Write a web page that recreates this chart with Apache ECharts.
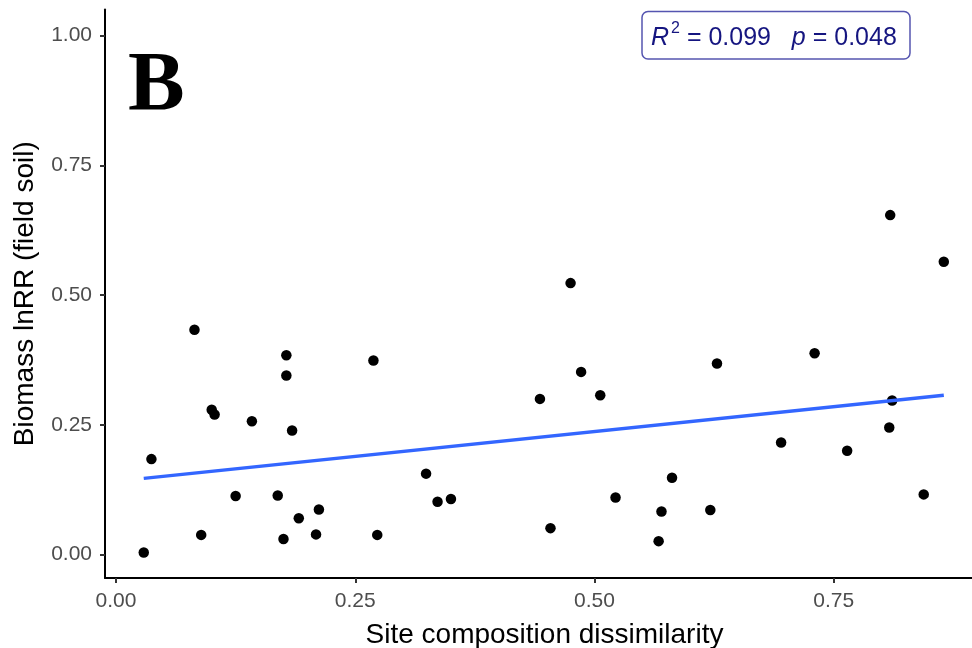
<!DOCTYPE html>
<html>
<head>
<meta charset="utf-8">
<title>Biomass lnRR vs site composition dissimilarity</title>
<script src="https://cdn.jsdelivr.net/npm/echarts@6/dist/echarts.min.js"></script>
<style>
  html, body { margin: 0; padding: 0; background: #ffffff; }
  #chart { width: 972px; height: 648px; }
</style>
</head>
<body>
<div id="chart"></div>
<script>
// Site composition dissimilarity (x) and biomass lnRR in field soil (y)
const dissimilarity = [
  0.029, 0.037, 0.082, 0.089, 0.100, 0.103, 0.125, 0.142, 0.169, 0.178,
  0.178, 0.184, 0.175, 0.191, 0.212, 0.209, 0.269, 0.273, 0.324, 0.336,
  0.350, 0.443, 0.454, 0.475, 0.486, 0.506, 0.522, 0.567, 0.570, 0.581,
  0.621, 0.628, 0.695, 0.730, 0.764, 0.808, 0.811, 0.809, 0.844, 0.865
];
const biomassLnRR = [
  0.004, 0.184, 0.433, 0.038, 0.279, 0.270, 0.113, 0.257, 0.114, 0.384,
  0.345, 0.239, 0.030, 0.070, 0.087, 0.039, 0.374, 0.038, 0.156, 0.102,
  0.107, 0.300, 0.051, 0.523, 0.352, 0.307, 0.110, 0.026, 0.083, 0.148,
  0.086, 0.368, 0.216, 0.388, 0.200, 0.245, 0.297, 0.654, 0.116, 0.564
];

// Fitted linear trend (endpoints over the observed x range)
const fitX = [0.029, 0.865];
const fitY = [0.147, 0.307];

// Tick positions
const xTicks = [0, 0.25, 0.5, 0.75];
const yTicks = [0, 0.25, 0.5, 0.75, 1.0];

const points = dissimilarity.map((x, i) => [x, biomassLnRR[i]]);
const fitLine = fitX.map((x, i) => [x, fitY[i]]);

const chart = echarts.init(document.getElementById('chart'), null, { renderer: 'canvas' });

const sans = 'Liberation Sans, Arial, sans-serif';
const tickLabelStyle = {
  color: '#4d4d4d',
  fontFamily: sans,
  fontSize: 21,
  formatter: v => v.toFixed(2)
};

chart.setOption({
  backgroundColor: '#ffffff',
  animation: false,
  grid: { left: 105, right: -12, top: 9.5, bottom: 70, containLabel: false, outerBoundsMode: 'none' },
  xAxis: {
    type: 'value',
    min: -0.0115,
    max: 0.907,
    name: 'Site composition dissimilarity',
    nameLocation: 'middle',
    nameGap: 43,
    nameTextStyle: { color: '#000000', fontSize: 28, fontFamily: sans },
    axisLine: { show: true, onZero: false, lineStyle: { color: '#000000', width: 2 } },
    axisTick: { show: true, customValues: xTicks, length: 5, lineStyle: { color: '#333333', width: 2 } },
    axisLabel: Object.assign({ customValues: xTicks, margin: 13 }, tickLabelStyle),
    splitLine: { show: false }
  },
  yAxis: {
    type: 'value',
    min: -0.045,
    max: 1.05,
    name: 'Biomass lnRR (field soil)',
    nameLocation: 'middle',
    nameGap: 66,
    nameTextStyle: { color: '#000000', fontSize: 28, fontFamily: sans },
    axisLine: { show: true, onZero: false, lineStyle: { color: '#000000', width: 2 } },
    axisTick: { show: true, customValues: yTicks, length: 5, lineStyle: { color: '#333333', width: 2 } },
    axisLabel: Object.assign({ customValues: yTicks, margin: 13 }, tickLabelStyle),
    splitLine: { show: false }
  },
  series: [
    {
      type: 'scatter',
      data: points,
      symbol: 'circle',
      symbolSize: 10.5,
      itemStyle: { color: '#000000', opacity: 1 },
      z: 2
    },
    {
      type: 'line',
      data: fitLine,
      showSymbol: false,
      symbol: 'none',
      lineStyle: { color: '#3366ff', width: 3.4 },
      z: 3
    }
  ],
  graphic: [
    {
      type: 'text',
      left: 128,
      top: 46,
      style: {
        text: 'B',
        font: 'bold 85px "Liberation Serif", "Times New Roman", serif',
        fill: '#000000',
        shadowColor: 'rgba(0,0,0,0.35)',
        shadowBlur: 4,
        shadowOffsetX: 2,
        shadowOffsetY: 2
      }
    },
    {
      type: 'rect',
      shape: { x: 642, y: 11.5, width: 268, height: 47.5, r: 6 },
      style: { fill: '#ffffff', stroke: '#5555b0', lineWidth: 1.5 },
      z: 10
    },
    {
      type: 'text',
      x: 651,
      y: 36,
      z: 11,
      style: {
        text: '{i|R}{sup|2}{n| = 0.099   }{i|p}{n| = 0.048}',
        verticalAlign: 'middle',
        rich: {
          i: { fontStyle: 'italic', fontSize: 25, fontFamily: sans, fill: '#151580', lineHeight: 30, verticalAlign: 'bottom' },
          n: { fontSize: 25, fontFamily: sans, fill: '#151580', lineHeight: 30, verticalAlign: 'bottom' },
          sup: { fontSize: 16, fontFamily: sans, fill: '#151580', lineHeight: 30, verticalAlign: 'top', padding: [0, 0, 0, 2] }
        }
      }
    }
  ]
});
</script>
</body>
</html>
